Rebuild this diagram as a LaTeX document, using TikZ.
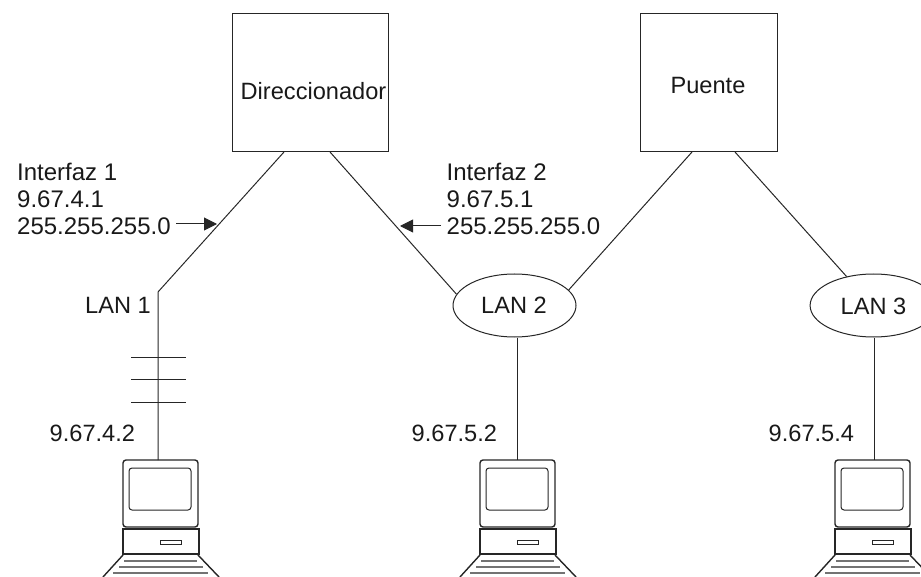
\documentclass[tikz,border=0pt]{standalone}
\usepackage{fontspec}
\setmainfont{Liberation Sans}
\usetikzlibrary{shapes.geometric,arrows.meta}
\tikzset{
  x=1pt,y=-1pt,
  ln/.style={draw=black!85,line width=1pt},
  box/.style={draw=black!85,line width=1pt,minimum width=#1,minimum height=138pt,inner sep=0pt},
  lan/.style={ellipse,draw=black!85,line width=1pt,fill=white,minimum width=123pt,minimum height=63pt,inner sep=0pt},
  lbl/.style={inner sep=0pt,font=\fontsize{23.6}{28}\selectfont,text=black!90},
  multi/.style={lbl,align=left,anchor=north west,font=\fontsize{24}{27}\selectfont},
  pointer/.style={ln,-{Triangle[length=13pt,width=13pt]}},
  pics/computer/.style={code={
    \draw[ln,line width=1.4pt,rounded corners=3pt] (-37,0) rectangle (38,67);
    \draw[ln,line width=1pt,rounded corners=3pt] (-31,8) rectangle (31,50);
    \draw[ln,line width=1.4pt] (-37,69) rectangle (39,94);
    \draw[ln] (0,80) rectangle (21,84);
    \draw[ln,line width=1.4pt] (-37,95) -- (-57,117);
    \draw[ln,line width=1.4pt] (38,95) -- (59,117);
    \draw[ln,line width=1.8pt,black!55] (-36,101) -- (37,101);
    \draw[ln,line width=1.8pt,black!55] (-41,107) -- (43,107);
    \draw[ln,line width=1.8pt,black!55] (-47,113) -- (48,113);
  }}
}
\begin{document}
\begin{tikzpicture}
\useasboundingbox (0,0) rectangle (921,577);
\node[box=156pt] (dir) at (310,83) {};
\node[lbl] (dirt) at (313.5,91) {Direccionador};
\node[box=137pt] (pue) at (708.5,83) {};
\node[lbl] (puet) at (708,85) {Puente};
\node[lan] (lan2) at (514.5,305.5) {};
\node[lbl] (lan2t) at (514,305.5) {LAN 2};
\node[lan,minimum width=127pt] (lan3) at (873.6,305.5) {};
\node[lbl] (lan3t) at (873.5,306) {LAN 3};
\coordinate (d1) at (284,152);
\coordinate (d2) at (330,152);
\coordinate (p1) at (692,152);
\coordinate (p2) at (735,152);
\coordinate (bend) at (158,292);
\coordinate (pc1) at (158,460);
\coordinate (pc2) at (517,460);
\coordinate (pc3) at (874,460);
\coordinate (a1) at (217,224);
\coordinate (a1s) at (176,224);
\coordinate (a2) at (400,226);
\coordinate (a2s) at (441,226);
\draw[ln] (d1) -- (bend) -- (pc1);
\draw[ln] (d2) -- (lan2.169);
\draw[ln] (p1) -- (lan2.16);
\draw[ln] (p2) -- (lan3.133);
\draw[ln] (lan2.south -| pc2) -- (pc2);
\draw[ln] (lan3.south -| pc3) -- (pc3);
\foreach \yy in {357,379,402} \draw[ln] (131,\yy) -- (186,\yy);
\draw[pointer] (a1s) -- (a1);
\draw[pointer] (a2s) -- (a2);
\node[multi] (i1) at (17,162.5) {Interfaz 1\\9.67.4.1\\255.255.255.0};
\node[multi] (i2) at (446.5,162.5) {Interfaz 2\\9.67.5.1\\255.255.255.0};
\node[lbl,anchor=base west] (l1) at (85,313) {LAN 1};
\node[lbl,anchor=base west] (n1) at (49.5,441) {9.67.4.2};
\node[lbl,anchor=base west] (n2) at (411.5,441) {9.67.5.2};
\node[lbl,anchor=base west] (n3) at (768.5,441) {9.67.5.4};
\pic at (160,460) {computer};
\pic at (517,460) {computer};
\pic at (872,460) {computer};
\end{tikzpicture}
\end{document}
